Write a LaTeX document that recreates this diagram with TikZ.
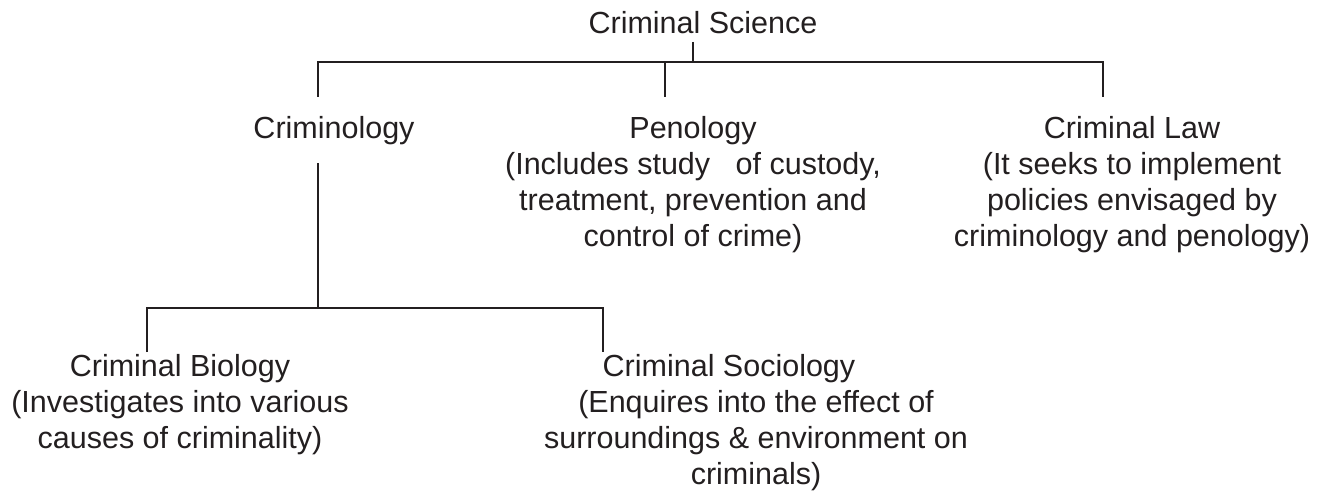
\documentclass[tikz,border=0pt]{standalone}
\usepackage{fontspec}
\setmainfont{Liberation Sans}
\definecolor{ink}{HTML}{231F20}
\newcommand\fl{\rule{0pt}{25pt}}
\begin{document}
\begin{tikzpicture}[x=1pt,y=-1pt,
  lbl/.style={inner sep=0pt, text=ink, font=\fontsize{30.5}{36}\selectfont, align=center, anchor=north},
  link/.style={draw=ink, line width=2.7pt, line join=miter}]
\useasboundingbox[fill=white] (0,0) rectangle (1321,492);
% text nodes (north = first baseline - 25)
\node[lbl] (sci) at (703,8) {\fl Criminal Science};
\node[lbl] (cgy) at (334,113) {\fl Criminology};
\node[lbl] (pen) at (693,113) {\fl Penology\\(Includes study\ \ \ of custody,\\treatment, prevention and\\control of crime)};
\node[lbl] (law) at (1132,113) {\fl Criminal Law\\(It seeks to implement\\policies envisaged by\\criminology and penology)};
\node[lbl] (bio) at (180,351) {\fl Criminal Biology\\(Investigates into various\\causes of criminality)};
\node[lbl] (soc) at (756,351) {\fl\hspace*{-54pt}Criminal Sociology\\(Enquires into the effect of\\surroundings \& environment on\\criminals)};
% connector coordinates
\coordinate (t0) at (693,42);
\coordinate (kA) at (318,62);
\coordinate (kC) at (1103,62);
\coordinate (eA) at (318,97);
\coordinate (eB) at (665,97);
\coordinate (eC) at (1103,97);
\coordinate (cD) at (318,163);
\coordinate (kD) at (318,308);
\coordinate (kE) at (147,308);
\coordinate (kF) at (603,308);
\coordinate (eE) at (147,352);
\coordinate (eF) at (603,352);
% top bracket
\draw[link] (t0) -- (t0 |- kA);
\draw[link] (eA) -- (kA) -- (kC) -- (eC);
\draw[link] (eB) -- (eB |- kA);
% criminology branch
\draw[link] (cD) -- (kD);
\draw[link] (eE) -- (kE) -- (kF) -- (eF);
\end{tikzpicture}
\end{document}
